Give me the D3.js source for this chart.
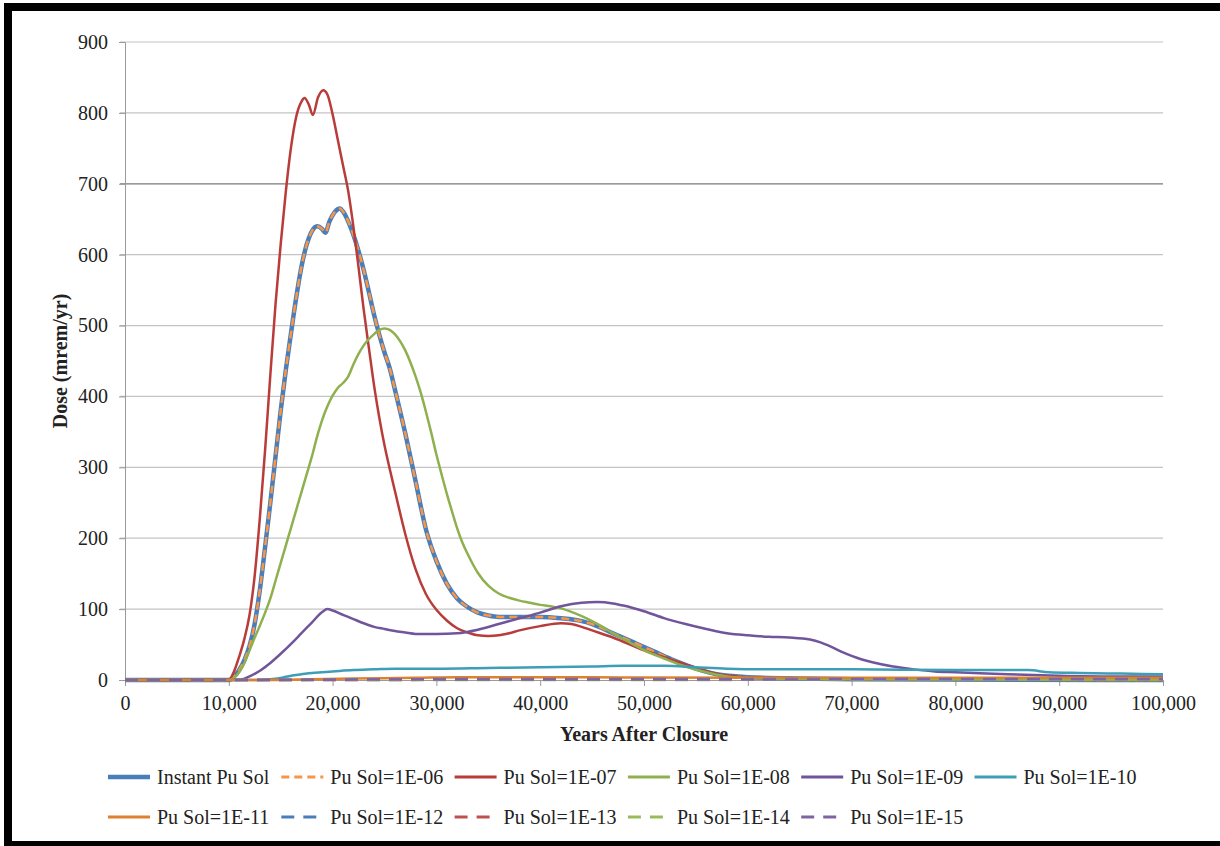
<!DOCTYPE html>
<html>
<head>
<meta charset="utf-8">
<script src="https://cdn.jsdelivr.net/npm/d3@7"></script>
<style>
  body { margin: 0; background: #fff; }
</style>
</head>
<body>
<script>
// Dose curves: [years after closure, mrem/yr]
const instantPuSol = [[0,0],[10000,0],[10500,5],[11000,14],[11500,28],[12000,48],[12500,80],[13000,128],[13500,188],[14000,250],[14500,315],[15000,380],[15500,438],[16000,490],[16500,540],[17000,583],[17500,614],[18000,633],[18500,640],[19000,636],[19300,631],[19700,647],[20200,660],[20700,665],[21000,661],[21500,647],[22000,628],[22500,605],[23000,578],[23500,547],[24000,515],[24500,487],[25000,462],[25500,440],[26000,410],[27000,348],[28000,280],[29000,212],[30000,168],[31000,136],[32000,115],[33000,103],[34000,95],[35000,91],[36000,89],[38000,89],[40000,89],[42000,87],[44000,83],[45000,79],[47000,66],[49000,53],[51000,40],[53000,27],[55000,16],[57000,8],[60000,4],[65000,2],[70000,1],[100000,0]];
// 1E-06 lies exactly on top of the instant curve
const puSol1e06 = instantPuSol;
const puSol1e07 = [[0,0],[10000,0],[10500,12],[11000,33],[11500,58],[12000,92],[12500,148],[13000,230],[13500,325],[14000,430],[14500,530],[15000,615],[15500,690],[16000,752],[16500,795],[17000,816],[17300,821],[17700,812],[18100,797],[18600,822],[19100,832],[19500,826],[20000,798],[20500,762],[21000,726],[21500,690],[22000,640],[22500,582],[23000,522],[23500,468],[24000,415],[24500,370],[25000,331],[25500,298],[26000,267],[27000,206],[28000,156],[29000,121],[30000,99],[31000,84],[32000,73],[33000,67],[34000,63],[35000,62],[36000,63],[37000,66],[38000,70],[40000,76],[42000,80],[43000,79],[44000,75],[45000,70],[47000,60],[50000,42],[53000,27],[55000,17],[57000,9],[60000,4],[65000,2],[70000,1],[100000,0]];
const puSol1e08 = [[0,0],[10000,0],[10500,3],[11000,11],[11500,24],[12000,42],[12500,60],[13000,77],[13500,95],[14000,115],[14500,140],[15000,165],[15500,190],[16000,215],[16500,240],[17000,265],[17500,290],[18000,315],[18500,343],[19000,367],[19500,386],[20000,401],[20500,412],[21000,419],[21500,428],[22000,445],[22500,460],[23000,472],[23500,481],[24000,488],[24500,494],[25000,496],[25500,494],[26000,488],[26500,478],[27000,465],[27500,448],[28000,428],[28500,405],[29000,378],[29500,349],[30000,318],[30500,290],[31000,263],[31500,238],[32000,214],[32500,194],[33000,178],[34000,151],[35000,133],[36000,122],[37000,116],[38000,112],[39000,109],[40000,106],[41000,104],[42000,101],[43000,96],[44000,90],[45000,83],[46000,75],[47000,66],[48000,58],[49000,50],[50000,42],[52000,30],[54000,19],[56000,11],[58000,5],[60000,3],[70000,1],[100000,0]];
const puSol1e09 = [[0,0],[11000,0],[11500,2],[12000,5],[13000,13],[14000,24],[15000,37],[16000,51],[17000,66],[18000,81],[19000,96],[19500,100],[20000,98],[21000,92],[22000,86],[23000,80],[24000,75],[25000,72],[26000,69],[27000,67],[28000,65],[30000,65],[32000,66],[34000,71],[36000,79],[38000,87],[40000,95],[42000,104],[44000,109],[45500,110],[47000,108],[48000,105],[50000,97],[52000,87],[54000,79],[56000,72],[58000,66],[60000,63],[62000,61],[64000,60],[66000,57],[67000,53],[68000,47],[69000,40],[70000,34],[71000,29],[72000,25],[74000,19],[76000,15],[78000,12],[80000,11],[85000,8],[90000,6],[95000,5],[100000,5]];
const puSol1e10 = [[0,0],[13000,0],[14000,1],[15000,3],[16000,6],[17000,8],[18000,10],[19000,11],[20000,12],[22000,14],[24000,15],[26000,16],[30000,16],[35000,17],[40000,18],[45000,19],[48000,20],[52000,20],[55000,18],[58000,16],[62000,15],[70000,15],[80000,14],[87000,14],[89000,11],[92000,10],[96000,9],[100000,8]];
const puSol1e11 = [[0,0],[14000,0],[18000,1],[22000,2],[28000,3],[32000,4],[40000,4],[48000,3.5],[60000,3],[80000,3],[100000,3]];
const puSol1e12 = [[0,0],[15000,0],[25000,1],[40000,1.5],[60000,1.5],[100000,1.5]];
const puSol1e13 = [[0,0],[20000,0],[40000,0.5],[100000,0.5]];
const puSol1e14 = [[0,0],[100000,0.3]];
const puSol1e15 = [[0,0],[20000,0.5],[100000,1]];

const seriesNames = ["Instant Pu Sol", "Pu Sol=1E-06", "Pu Sol=1E-07", "Pu Sol=1E-08", "Pu Sol=1E-09", "Pu Sol=1E-10",
  "Pu Sol=1E-11", "Pu Sol=1E-12", "Pu Sol=1E-13", "Pu Sol=1E-14", "Pu Sol=1E-15"];
const seriesData = [instantPuSol, puSol1e06, puSol1e07, puSol1e08, puSol1e09, puSol1e10,
  puSol1e11, puSol1e12, puSol1e13, puSol1e14, puSol1e15];
const seriesColors = ["#4a7ebb", "#f79646", "#b83c3a", "#8fb04e", "#71559a", "#3e9eb6",
  "#e07f2e", "#4a7ebb", "#c0504d", "#9bbb59", "#8064a2"];
const seriesWidths = [4.5, 2.5, 2.5, 2.5, 2.5, 2.5, 2.5, 2.5, 2.5, 2.5, 2.5];
const seriesDash = [null, "8,5", null, null, null, null, null, "13,9", "13,9", "13,9", "13,9"];

const xTicks = [0, 10000, 20000, 30000, 40000, 50000, 60000, 70000, 80000, 90000, 100000];
const yTicks = [0, 100, 200, 300, 400, 500, 600, 700, 800, 900];

const width = 1220, height = 846;
const margin = { left: 125, right: 57, top: 42, bottom: 166 };
const serif = '"Liberation Serif", "Times New Roman", serif';

const svg = d3.select("body").append("svg")
  .attr("width", width)
  .attr("height", height);

const x = d3.scaleLinear().domain([0, 100000]).range([margin.left, width - margin.right]);
const y = d3.scaleLinear().domain([0, 900]).range([height - margin.bottom, margin.top]);

// gridlines
svg.append("g")
  .selectAll("line")
  .data(yTicks.filter(d => d > 0))
  .enter().append("line")
  .attr("x1", x(0) - 5)
  .attr("x2", x(100000))
  .attr("y1", d => y(d))
  .attr("y2", d => y(d))
  .attr("stroke", d => d === 700 ? "#7a7a7a" : "#c4c4c4")
  .attr("stroke-width", 1.2);

// y axis
const yAxis = svg.append("g")
  .attr("transform", `translate(${x(0)},0)`)
  .call(d3.axisLeft(y).tickValues(yTicks).tickSize(6).tickPadding(11).tickFormat(d3.format("d")));
yAxis.select(".domain").attr("stroke", "#9a9a9a");
yAxis.selectAll(".tick line").attr("stroke", "#9a9a9a");
yAxis.selectAll("text").style("font-size", "20px").attr("fill", "#333");

// x axis
const xAxis = svg.append("g")
  .attr("transform", `translate(0,${y(0)})`)
  .call(d3.axisBottom(x).tickValues(xTicks).tickSize(6).tickPadding(10).tickFormat(d3.format(",")));
xAxis.select(".domain").attr("stroke", "#9a9a9a");
xAxis.selectAll(".tick line").attr("stroke", "#9a9a9a");
xAxis.selectAll("text").style("font-size", "20px").attr("fill", "#333");

// curves
const line = d3.line()
  .x(d => x(d[0]))
  .y(d => y(d[1]))
  .curve(d3.curveMonotoneX);

svg.append("g")
  .selectAll("path")
  .data(seriesData)
  .enter().append("path")
  .attr("d", d => line(d))
  .attr("fill", "none")
  .attr("stroke", (d, i) => seriesColors[i])
  .attr("stroke-width", (d, i) => seriesWidths[i])
  .attr("stroke-dasharray", (d, i) => seriesDash[i])
  .attr("stroke-linejoin", "round");

// axis titles
svg.append("text")
  .attr("x", (x(0) + x(100000)) / 2)
  .attr("y", 741)
  .attr("text-anchor", "middle")
  .style("font-size", "20px")
  .style("font-weight", "bold")
  .text("Years After Closure");

svg.append("text")
  .attr("transform", `translate(67,${(y(0) + y(900)) / 2}) rotate(-90)`)
  .attr("text-anchor", "middle")
  .style("font-size", "20px")
  .style("font-weight", "bold")
  .text("Dose (mrem/yr)");

// legend, 6 columns x 2 rows
const legend = svg.append("g")
  .selectAll("g")
  .data(seriesNames)
  .enter().append("g")
  .attr("transform", (d, i) => `translate(${108 + (i % 6) * 173.3},${i < 6 ? 777 : 817})`);

legend.append("line")
  .attr("x1", 0)
  .attr("x2", 42)
  .attr("stroke", (d, i) => seriesColors[i])
  .attr("stroke-width", (d, i) => i === 0 ? 4.5 : 3)
  .attr("stroke-dasharray", (d, i) => seriesDash[i]);

legend.append("text")
  .attr("x", 49)
  .attr("y", 7)
  .style("font-size", "20px")
  .text(d => d);

svg.selectAll("text").style("font-family", serif).attr("fill", "#222");

// black frame (right side runs off the page)
svg.append("rect")
  .attr("x", 8)
  .attr("y", 7)
  .attr("width", 1240)
  .attr("height", 838)
  .attr("fill", "none")
  .attr("stroke", "#000")
  .attr("stroke-width", 8);
</script>
</body>
</html>
